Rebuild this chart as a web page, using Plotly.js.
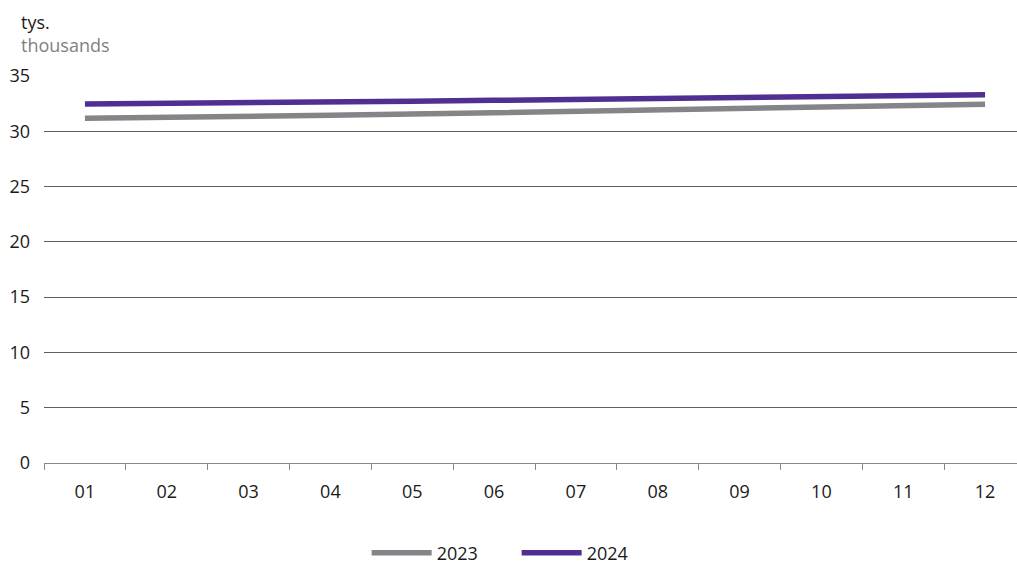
<!DOCTYPE html>
<html>
<head>
<meta charset="utf-8">
<script src="https://cdn.plot.ly/plotly-3.0.1.min.js"></script>
<style>
html,body{margin:0;padding:0;overflow:hidden;background:#fff;}
#chart{width:1027px;height:564px;}
</style>
</head>
<body>
<div id="chart"></div>
<script>
const months = ['01','02','03','04','05','06','07','08','09','10','11','12'];
const values2023 = [31.17,31.23,31.32,31.45,31.56,31.68,31.83,31.93,32.08,32.20,32.31,32.44];
const values2024 = [32.47,32.50,32.56,32.62,32.71,32.80,32.89,33.01,33.04,33.19,33.31,33.31];
const seriesNames = ['2023','2024'];
const yTicks = [0,5,10,15,20,25,30,35];

const FONT = '"Open Sans", "Noto Sans", sans-serif';

const traces = [
  {x: months, y: values2023, name: seriesNames[0], type: 'scatter', mode: 'lines',
   line: {color: '#858589', width: 5.5}},
  {x: months, y: values2024, name: seriesNames[1], type: 'scatter', mode: 'lines',
   line: {color: '#502f93', width: 5.5}}
];

const layout = {
  width: 1027, height: 564,
  margin: {l: 44, r: 1, t: 76, b: 101, autoexpand: false},
  paper_bgcolor: '#fff', plot_bgcolor: '#fff',
  font: {family: FONT, size: 18, color: '#1a1a1a'},
  showlegend: true,
  legend: {orientation: 'h', xref: 'container', yref: 'container',
           x: 0.357, xanchor: 'left', y: 0.0195, yanchor: 'middle',
           itemwidth: 60, entrywidth: 75, entrywidthmode: 'pixels',
           font: {size: 18, color: '#1a1a1a'}, traceorder: 'normal'},
  xaxis: {type: 'category', categoryarray: months, range: [-0.5, 11.5], tickson: 'boundaries',
          ticks: 'outside', ticklen: 6, tickcolor: '#888', tickwidth: 1,
          showline: true, linecolor: '#888', linewidth: 1, showgrid: false,
          zeroline: false, ticklabelstandoff: 12, fixedrange: true,
          tickfont: {size: 18}},
  yaxis: {range: [0, 35], tickvals: yTicks, ticktext: yTicks.map(String),
          showgrid: true, gridcolor: '#5e5e5e', gridwidth: 1, zeroline: false,
          ticks: '', showline: false, ticklabelstandoff: 13, fixedrange: true,
          tickfont: {size: 18}},
  annotations: [
    {text: 'tys.', xref: 'paper', yref: 'paper', x: -0.0255, y: 1.1395,
     xanchor: 'left', yanchor: 'middle', showarrow: false, font: {size: 18, color: '#1a1a1a'}},
    {text: 'thousands', xref: 'paper', yref: 'paper', x: -0.0255, y: 1.080,
     xanchor: 'left', yanchor: 'middle', showarrow: false, font: {size: 18, color: '#7f7f7f'}}
  ]
};

Plotly.newPlot('chart', traces, layout, {displayModeBar: false, staticPlot: true});
</script>
</body>
</html>
